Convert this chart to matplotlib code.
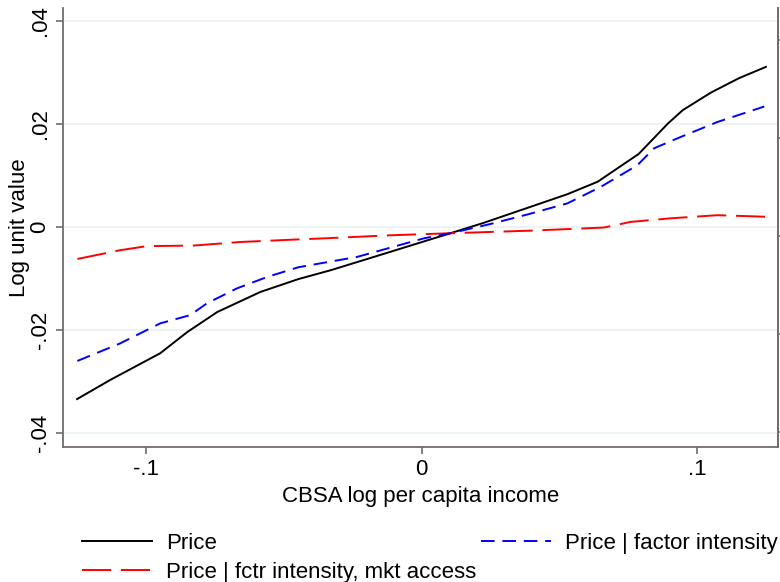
import numpy as np
import matplotlib
matplotlib.use('Agg')
import matplotlib.pyplot as plt

plt.rcParams['font.family'] = ['Liberation Sans', 'DejaVu Sans']

# ─── data ────────────────────────────────────────────────────────────────
price_x = [-0.1251, -0.1131, -0.0949, -0.0851, -0.0742, -0.0585, -0.0447,
           -0.0331, -0.0185, -0.0040, 0.0105, 0.0225, 0.0389, 0.0531,
           0.0640, 0.0789, 0.0895, 0.0949, 0.1051, 0.1153, 0.1251]
price_y = [-0.0334, -0.0297, -0.0245, -0.0204, -0.0165, -0.0126, -0.0101,
           -0.0084, -0.0060, -0.0036, -0.0012, 0.0008, 0.0038, 0.0064,
           0.0088, 0.0142, 0.0201, 0.0227, 0.0261, 0.0289, 0.0311]

fint_x = [-0.1250, -0.1095, -0.0949, -0.0840, -0.0779, -0.0670, -0.0561,
          -0.0447, -0.0234, 0.0008, 0.0105, 0.0251, 0.0389, 0.0530,
          0.0651, 0.0784, 0.0845, 0.0942, 0.1075, 0.1245]
fint_y = [-0.0260, -0.0226, -0.0187, -0.0171, -0.0148, -0.0119, -0.0097,
          -0.0078, -0.0058, -0.0022, -0.0012, 0.0006, 0.0025, 0.0046,
          0.0078, 0.0120, 0.0153, 0.0175, 0.0204, 0.0234]

mkt_x = [-0.1250, -0.1095, -0.0997, -0.0829, -0.0658, -0.0447, -0.0356,
         -0.0113, 0.0105, 0.0396, 0.0662, 0.0760, 0.0905, 0.1075, 0.1251]
mkt_y = [-0.0062, -0.0045, -0.0037, -0.0036, -0.0029, -0.0024, -0.0022,
         -0.0016, -0.0012, -0.0007, -0.0001, 0.0010, 0.0017, 0.0023, 0.0020]

yticks = [-0.04, -0.02, 0.0, 0.02, 0.04]
ytick_labels = ['-.04', '-.02', '0', '.02', '.04']
xticks = [-0.1, 0.0, 0.1]
xtick_labels = ['-.1', '0', '.1']

# ─── plot ────────────────────────────────────────────────────────────────
fig = plt.figure(figsize=(7.8, 5.82), dpi=100)
ax = fig.add_axes([0.0808, 0.232, 0.9167, 0.754])

spine_col = '#6e6e6e'
for side in ['left', 'bottom', 'right']:
    ax.spines[side].set_color(spine_col)
    ax.spines[side].set_linewidth(1.3)
ax.spines['top'].set_visible(False)

ax.set_xlim(-0.1302, 0.1295)
ax.set_ylim(-0.0427, 0.0425)

for yv in yticks:
    ax.axhline(yv, color='#eaf2f3', lw=1.3, zorder=0)

l1, = ax.plot(price_x, price_y, color='black', lw=1.4, label='Price')
l3, = ax.plot(mkt_x, mkt_y, color='#ff0000', lw=1.4, dashes=(15, 5),
              label='Price | fctr intensity, mkt access')
l2, = ax.plot(fint_x, fint_y, color='#0000ff', lw=1.4, dashes=(7, 4),
              label='Price | factor intensity')

ax.set_yticks(yticks)
ax.set_yticklabels(ytick_labels, rotation=90, va='center')
ax.set_xticks(xticks)
ax.set_xticklabels(xtick_labels)
ax.tick_params(axis='both', direction='out', length=5, width=1.2,
               color=spine_col, labelsize=16, pad=4)
ax.set_xlabel('CBSA log per capita income', fontsize=16, labelpad=4)
ax.set_ylabel('Log unit value', fontsize=16, labelpad=0)

# second (empty) axis on the right, labels cut off
ax2 = ax.twinx()
ax2.set_ylim(-0.153, 4.327)
ax2.set_yticks([0, 1, 2, 3, 4])
ax2.set_yticklabels([])
ax2.tick_params(axis='y', direction='out', length=4, width=1.2, color=spine_col)
for side in ['left', 'bottom', 'top']:
    ax2.spines[side].set_visible(False)
ax2.spines['right'].set_color(spine_col)
ax2.spines['right'].set_linewidth(1.3)

fig.legend(handles=[l1, l3, l2], ncol=2, frameon=False, fontsize=16,
           loc='upper left', bbox_to_anchor=(0.105, 0.084),
           handlelength=3.15, handletextpad=0.63, columnspacing=0.2,
           borderaxespad=0, borderpad=0, labelspacing=0.35)

fig.savefig('out.png', dpi=100, facecolor='white')
